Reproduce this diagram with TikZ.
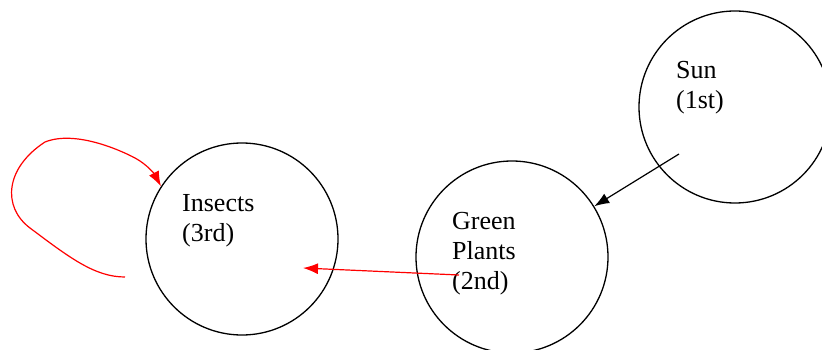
\documentclass[tikz,border=0pt]{standalone}
\usepackage{fontspec}
\setmainfont{Liberation Serif}
\usetikzlibrary{arrows.meta}
\begin{document}
\begin{tikzpicture}[x=1pt,y=-1pt,>={Latex[length=15pt,width=11pt]},
    ring/.style={draw,circle,line width=1.3pt,inner sep=0,minimum size=192pt},
    lbl/.style={anchor=base west,inner sep=0,align=left,font=\fontsize{26}{30}\selectfont}]
    \useasboundingbox (0,0) rectangle (822,350);
    \path (735,107) node [ring](sun){};
    \path (512,257) node [ring](plants){};
    \path (242,239) node [ring](insects){};
    \path (676,109) node [lbl](sunlbl){Sun\\(1st)};
    \path (452,289) node [lbl](plantslbl){Green\\Plants\\(2nd)};
    \path (182,241) node [lbl](insectslbl){Insects\\(3rd)};
    \path (679,154) coordinate (sunout);
    \path (459,275) coordinate (plantsout);
    \path (303,268) coordinate (insectsin);
    \path (125,277) coordinate (loopstart);
    \draw[->,line width=1.2pt] (sunout) -- (plants);
    \draw[->,red,line width=1.2pt] (plantsout) -- (insectsin);
    \draw[->,red,line width=1.2pt] (loopstart) .. controls (95,277) and (70,258) .. (30,228)
      .. controls (2,207) and (5,168) .. (45,142)
      .. controls (75,130) and (120,150) .. (135,158)
      .. controls (148,165) and (155,175) .. (insects.147);
\end{tikzpicture}
\end{document}
